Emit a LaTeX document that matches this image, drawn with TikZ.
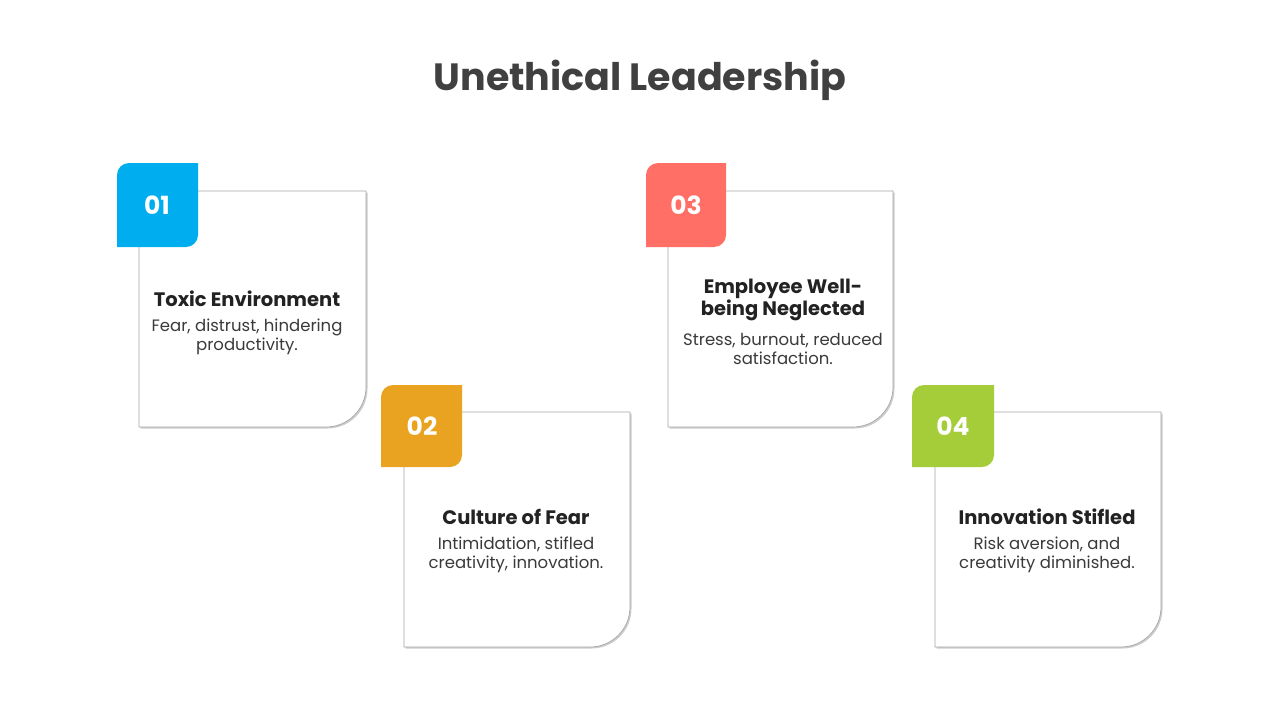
\documentclass[tikz,border=0pt]{standalone}
\usepackage{fontspec}
\setmainfont{Poppins}
\usetikzlibrary{shadows,positioning}

\definecolor{tagblue}{HTML}{00AEEF}
\definecolor{tagorange}{HTML}{E9A320}
\definecolor{tagred}{HTML}{FF6F66}
\definecolor{taggreen}{HTML}{A5CD39}
\definecolor{titlegray}{HTML}{404040}
\definecolor{headgray}{HTML}{222222}
\definecolor{textgray}{HTML}{3A3A3A}

\tikzset{
  card/.style={fill=white, draw=black!35, line width=0.7pt,
    drop shadow={opacity=0.4, shadow xshift=1.5pt, shadow yshift=-1.5pt}},
  tagnum/.style={text=white, font=\fontsize{25}{25}\selectfont\bfseries},
  head/.style={text=headgray, align=center, font=\fontsize{19.5}{22}\selectfont\bfseries},
  desc/.style={text=textgray, align=center, font=\fontsize{16.5}{19}\selectfont}
}

\begin{document}
\begin{tikzpicture}[x=1pt, y=-1pt]
	\useasboundingbox[fill=white] (0,0) rectangle (1280,720);

	\node[text=titlegray, font=\fontsize{38}{42}\selectfont\bfseries] (title) at (640,80) {Unethical Leadership};

	% card 01
	\draw[card] (139,191) -- (366,191) [rounded corners=40pt] -- (366,427) [sharp corners] -- (139,427) -- cycle;
	\fill[tagblue] (117,247) [rounded corners=12pt] -- (117,163) [sharp corners] -- (198,163) [rounded corners=12pt] -- (198,247) [sharp corners] -- cycle;
	\node[tagnum] (num1) at (157,205) {01};
	\node[head] (head1) at (247,299) {Toxic Environment};
	\node[desc, below=5pt of head1] (desc1) {Fear, distrust, hindering\\productivity.};

	% card 02
	\draw[card] (404,412) -- (630,412) [rounded corners=40pt] -- (630,647) [sharp corners] -- (404,647) -- cycle;
	\fill[tagorange] (381,467) [rounded corners=12pt] -- (381,385) [sharp corners] -- (462,385) [rounded corners=12pt] -- (462,467) [sharp corners] -- cycle;
	\node[tagnum] (num2) at (422,426) {02};
	\node[head] (head2) at (516,517) {Culture of Fear};
	\node[desc, below=5pt of head2] (desc2) {Intimidation, stifled\\creativity, innovation.};

	% card 03
	\draw[card] (668,191) -- (893,191) [rounded corners=40pt] -- (893,427) [sharp corners] -- (668,427) -- cycle;
	\fill[tagred] (646,247) [rounded corners=12pt] -- (646,163) [sharp corners] -- (726,163) [rounded corners=12pt] -- (726,247) [sharp corners] -- cycle;
	\node[tagnum] (num3) at (686,205) {03};
	\node[head] (head3) at (783,300) {Employee Well-\\being Neglected};
	\node[desc, below=5pt of head3] (desc3) {Stress, burnout, reduced\\satisfaction.};

	% card 04
	\draw[card] (935,412) -- (1161,412) [rounded corners=40pt] -- (1161,647) [sharp corners] -- (935,647) -- cycle;
	\fill[taggreen] (912,467) [rounded corners=12pt] -- (912,385) [sharp corners] -- (994,385) [rounded corners=12pt] -- (994,467) [sharp corners] -- cycle;
	\node[tagnum] (num4) at (953,426) {04};
	\node[head] (head4) at (1047,517) {Innovation Stifled};
	\node[desc, below=5pt of head4] (desc4) {Risk aversion, and\\creativity diminished.};

\end{tikzpicture}
\end{document}
